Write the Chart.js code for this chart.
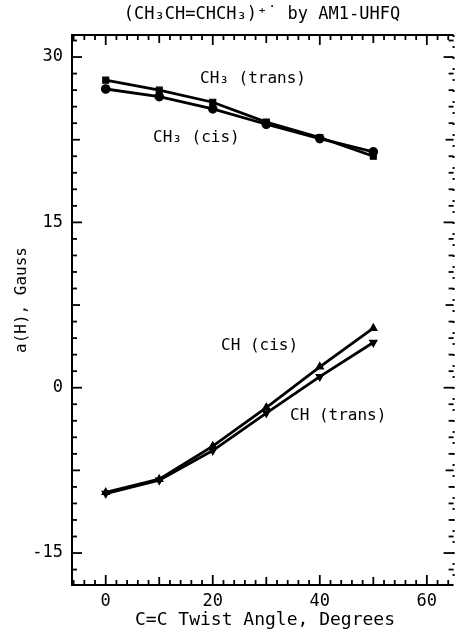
<!DOCTYPE html>
<html><head><meta charset="utf-8">
<script src="https://cdn.jsdelivr.net/npm/chart.js@4.4.0/dist/chart.umd.min.js"></script>
<style>html,body{margin:0;padding:0;background:#fff;}#wrap{width:459px;height:632px;}</style>
</head><body><div id="wrap"><canvas id="c" width="459" height="632"></canvas></div>
<script>
const angles = [0, 10, 20, 30, 40, 50];
const ch3Trans = [27.9, 27.0, 25.9, 24.1, 22.7, 21.0];
const ch3Cis   = [27.1, 26.4, 25.3, 23.9, 22.6, 21.4];
const chCis    = [-9.5, -8.3, -5.3, -1.8, 1.9, 5.4];
const chTrans  = [-9.6, -8.4, -5.7, -2.3, 1.0, 4.1];
const xTicks = [0, 20, 40, 60];
const yTicks = [-15, 0, 15, 30];
const titleText = "(CH\u2083CH=CHCH\u2083)\u207A\u02D9 by AM1-UHFQ";
const xTitle = "C=C Twist Angle, Degrees";
const yTitle = "a(H), Gauss";
const seriesLabels = ["CH\u2083 (trans)", "CH\u2083 (cis)", "CH (cis)", "CH (trans)"];

const FONT = '"DejaVu Sans Mono", "Liberation Mono", monospace';
const pts = a => angles.map((x, i) => ({x, y: a[i]}));
const ds = (data, style, rot) => ({
  data: pts(data), borderColor: '#000', backgroundColor: '#000', borderWidth: 2.8,
  pointStyle: style, pointRotation: rot || 0, pointRadius: 4.2, pointBorderWidth: 1.2,
  tension: 0, fill: false
});

const framePlugin = {
  id: 'frame',
  afterDraw(chart) {
    const {ctx, chartArea: a, scales: {x, y}} = chart;
    ctx.save();
    ctx.strokeStyle = '#000';
    ctx.lineWidth = 2;
    ctx.beginPath();
    ctx.moveTo(a.right, a.top); ctx.lineTo(a.left, a.top); ctx.lineTo(a.left, a.bottom); ctx.lineTo(a.right, a.bottom);
    ctx.stroke();
    ctx.setLineDash([2, 9]);
    ctx.beginPath(); ctx.moveTo(a.right, a.top); ctx.lineTo(a.right, a.bottom); ctx.stroke();
    ctx.setLineDash([]);
    ctx.lineWidth = 1.8;
    for (let v = -6; v <= 64; v += 2) {
      const px = x.getPixelForValue(v);
      if (px < a.left + 1 || px > a.right - 1) continue;
      const len = v % 20 === 0 ? 10 : (v % 10 === 0 ? 8 : 5);
      ctx.beginPath(); ctx.moveTo(px, a.bottom); ctx.lineTo(px, a.bottom - len); ctx.stroke();
      ctx.beginPath(); ctx.moveTo(px, a.top); ctx.lineTo(px, a.top + len); ctx.stroke();
    }
    for (let k = -12; k <= 21; k++) {
      const v = k * 1.5;
      const py = y.getPixelForValue(v);
      if (py < a.top + 1 || py > a.bottom - 1) continue;
      const len = k % 10 === 0 ? 10 : (k % 5 === 0 ? 8 : 5);
      ctx.beginPath(); ctx.moveTo(a.left, py); ctx.lineTo(a.left + len, py); ctx.stroke();
      ctx.beginPath(); ctx.moveTo(a.right, py); ctx.lineTo(a.right - len, py); ctx.stroke();
    }
    ctx.fillStyle = '#000';
    ctx.textBaseline = 'middle';
    ctx.textAlign = 'center';
    ctx.font = '17px ' + FONT;
    ctx.fillText(titleText, 262, 15);
    ctx.font = '18px ' + FONT;
    ctx.fillText(xTitle, 265, 620);
    ctx.save();
    ctx.translate(22, 300); ctx.rotate(-Math.PI / 2);
    ctx.font = '16px ' + FONT;
    ctx.fillText(yTitle, 0, 0);
    ctx.restore();
    ctx.font = '16px ' + FONT;
    ctx.textAlign = 'left';
    ctx.fillText(seriesLabels[0], 200, 79);
    ctx.fillText(seriesLabels[1], 153, 138);
    ctx.fillText(seriesLabels[2], 221, 346);
    ctx.fillText(seriesLabels[3], 290, 416);
    ctx.restore();
  }
};

new Chart(document.getElementById('c'), {
  type: 'line',
  data: { datasets: [
    ds(ch3Trans, 'rect'), ds(ch3Cis, 'circle'), ds(chCis, 'triangle'), ds(chTrans, 'triangle', 180)
  ]},
  options: {
    responsive: false, animation: false, devicePixelRatio: 1,
    layout: { padding: { top: 35, right: 2, left: 0, bottom: 0 } },
    plugins: { legend: { display: false }, tooltip: { enabled: false } },
    scales: {
      x: {
        type: 'linear', min: -6.3, max: 65,
        grid: { display: false, drawTicks: false }, border: { display: false },
        afterBuildTicks: s => { s.ticks = xTicks.map(v => ({value: v})); },
        afterFit: s => { s.height = 47; },
        ticks: { color: '#000', padding: 6, font: { family: FONT, size: 17 } }
      },
      y: {
        type: 'linear', min: -17.9, max: 32,
        grid: { display: false, drawTicks: false }, border: { display: false },
        afterBuildTicks: s => { s.ticks = yTicks.map(v => ({value: v})); },
        afterFit: s => { s.width = 72; },
        ticks: { color: '#000', padding: 9, font: { family: FONT, size: 17 } }
      }
    }
  },
  plugins: [framePlugin]
});
</script></body></html>
